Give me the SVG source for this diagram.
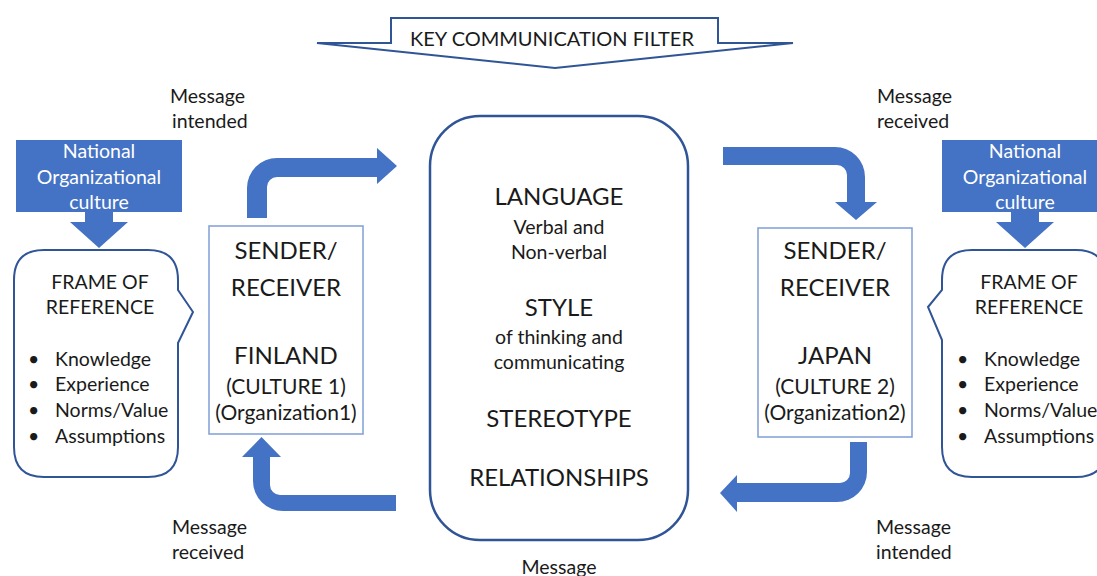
<svg xmlns="http://www.w3.org/2000/svg" width="1097" height="576" viewBox="0 0 1097 576">
  <style>
    text { font-family: Lato, "Open Sans", "Liberation Sans", sans-serif; fill: #1a1a1a; }
    .big { font-size: 24px; text-anchor: middle; }
    .mid { font-size: 21px; text-anchor: middle; }
    .sm { font-size: 19.5px; text-anchor: middle; }
    .lbl { font-size: 19.5px; }
    .wt { fill: #ffffff; font-size: 19.5px; text-anchor: middle; }
    .fill { fill: #4472C4; }
    .frame { fill: #ffffff; stroke: #2F5597; stroke-width: 2; }
    .party { fill: #ffffff; stroke: #7F9ED6; stroke-width: 1.5; }
  </style>

  <!-- filter banner arrow -->
  <g id="filter">
    <polygon points="317,43 391,43 391,18 718,18 718,43 793,43 555,68" fill="#ffffff" stroke="#2F5597" stroke-width="2" stroke-linejoin="miter"/>
    <text x="552" y="46" style="font-size:20px;text-anchor:middle">KEY COMMUNICATION FILTER</text>
  </g>

  <!-- culture sources -->
  <g id="culture-left">
    <rect class="fill" x="16" y="140" width="166" height="72"/>
    <polygon class="fill" points="85,212 113,212 113,222 128,222 99,248 70,222 85,222"/>
    <text class="wt" x="99" y="158">National</text>
    <text class="wt" x="99" y="184">Organizational</text>
    <text class="wt" x="99" y="209">culture</text>
  </g>
  <g id="culture-right">
    <rect class="fill" x="942" y="140" width="166" height="72"/>
    <polygon class="fill" points="1011,212 1039,212 1039,222 1054,222 1025,248 996,222 1011,222"/>
    <text class="wt" x="1025" y="158">National</text>
    <text class="wt" x="1025" y="184">Organizational</text>
    <text class="wt" x="1025" y="209">culture</text>
  </g>

  <!-- frames of reference -->
  <g id="frame-left">
    <path class="frame" d="M44,250 H148 Q178,250 178,280 V290 L193,312 L178,343 V447 Q178,477 148,477 H44 Q14,477 14,447 V280 Q14,250 44,250 Z"/>
    <text class="sm" x="100" y="289">FRAME OF</text>
    <text class="sm" x="100" y="314">REFERENCE</text>
    <g class="lbl">
      <text x="28" y="366">•</text><text x="55" y="366">Knowledge</text>
      <text x="28" y="391">•</text><text x="55" y="391">Experience</text>
      <text x="28" y="417">•</text><text x="55" y="417">Norms/Value</text>
      <text x="28" y="443">•</text><text x="55" y="443">Assumptions</text>
    </g>
  </g>
  <g id="frame-right">
    <path class="frame" d="M972,250 H1076 Q1106,250 1106,280 V447 Q1106,477 1076,477 H972 Q942,477 942,447 V340 L928,307 L942,290 V280 Q942,250 972,250 Z"/>
    <text class="sm" x="1029" y="289">FRAME OF</text>
    <text class="sm" x="1029" y="314">REFERENCE</text>
    <g class="lbl">
      <text x="957" y="366">•</text><text x="984" y="366">Knowledge</text>
      <text x="957" y="391">•</text><text x="984" y="391">Experience</text>
      <text x="957" y="417">•</text><text x="984" y="417">Norms/Value</text>
      <text x="957" y="443">•</text><text x="984" y="443">Assumptions</text>
    </g>
  </g>

  <!-- communicating parties -->
  <g id="sender-finland">
    <rect class="party" x="209" y="226" width="154" height="208"/>
    <text class="big" x="286" y="259">SENDER/</text>
    <text class="big" x="286" y="296">RECEIVER</text>
    <text class="big" x="286" y="364">FINLAND</text>
    <text class="mid" x="286" y="394">(CULTURE 1)</text>
    <text class="mid" x="286" y="420">(Organization1)</text>
  </g>
  <g id="sender-japan">
    <rect class="party" x="758" y="228" width="154" height="209"/>
    <text class="big" x="835" y="259">SENDER/</text>
    <text class="big" x="835" y="296">RECEIVER</text>
    <text class="big" x="835" y="364">JAPAN</text>
    <text class="mid" x="835" y="394">(CULTURE 2)</text>
    <text class="mid" x="835" y="420">(Organization2)</text>
  </g>

  <!-- message filter -->
  <g id="message">
    <rect x="430" y="116" width="258" height="424" rx="50" ry="50" fill="#ffffff" stroke="#2F5597" stroke-width="2.5"/>
    <text class="big" x="559" y="205">LANGUAGE</text>
    <text class="sm" x="559" y="234">Verbal and</text>
    <text class="sm" x="559" y="259">Non-verbal</text>
    <text class="big" x="559" y="316">STYLE</text>
    <text class="sm" x="559" y="344">of thinking and</text>
    <text class="sm" x="559" y="369">communicating</text>
    <text class="big" x="559" y="427">STEREOTYPE</text>
    <text class="big" x="559" y="486">RELATIONSHIPS</text>
    <text class="sm" x="559" y="574">Message</text>
  </g>

  <!-- flow arrows -->
  <g id="connectors" class="fill">
    <path d="M247,218 V188 A30,30 0 0 1 277,158 H377 V148 L397,166 L377,184 V177 H277 A10,10 0 0 0 267,187 V218 Z"/>
    <path d="M723,147 H835 A30,30 0 0 1 865,177 V202 H877 L856,220 L835,202 H847 V175 A10,10 0 0 0 837,165 H723 Z"/>
    <path d="M850,442 H867 V472 A30,30 0 0 1 837,502 H737 V512 L720,493 L737,475 V483 H840 A10,10 0 0 0 850,473 Z"/>
    <path d="M396,495 H280 A10,10 0 0 1 270,485 V457 H281 L261.5,437 L242,457 H253 V481 A30,30 0 0 0 283,511 H396 Z"/>
  </g>

  <!-- message labels -->
  <g id="labels" class="lbl">
    <text x="170" y="103">Message</text>
    <text x="172" y="128">intended</text>
    <text x="877" y="103">Message</text>
    <text x="877" y="128">received</text>
    <text x="172" y="534">Message</text>
    <text x="172" y="559">received</text>
    <text x="876" y="534">Message</text>
    <text x="876" y="559">intended</text>
  </g>
</svg>
